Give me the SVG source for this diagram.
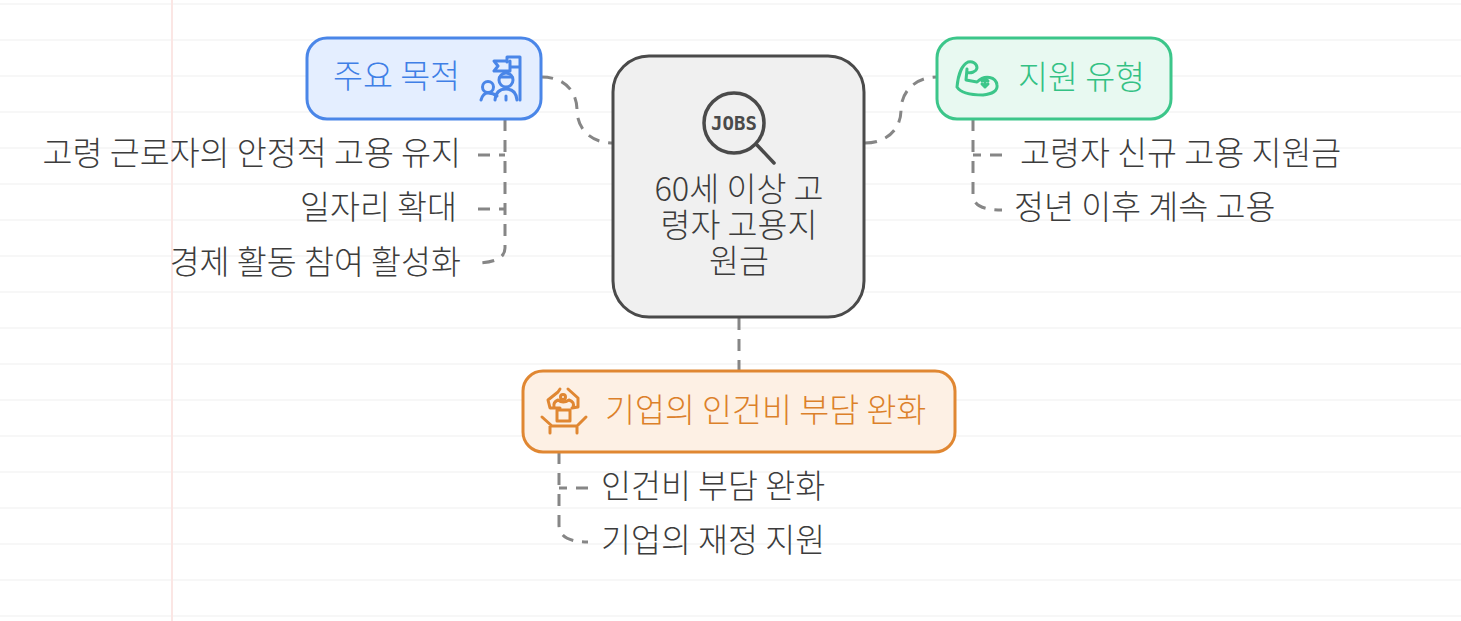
<svg xmlns="http://www.w3.org/2000/svg" width="1461" height="621" viewBox="0 0 1461 621">
<style>
.rule{stroke:#f7f7f7;stroke-width:2;fill:none}
.c{fill:none;stroke:#868686;stroke-width:3;stroke-dasharray:12 9}
.box{stroke-width:3}
text{font-family:"Noto Sans CJK KR","Noto Sans",sans-serif;font-size:32.600px;font-weight:300}
.leaf{fill:#3c3c3c}
.ic{fill:none;stroke-width:3;stroke-linecap:round;stroke-linejoin:round}
</style>
<defs><path id="rules" class="rule" d="M0 4H1461M0 40H1461M0 76H1461M0 112H1461M0 148H1461M0 184H1461M0 220H1461M0 256H1461M0 292H1461M0 328H1461M0 364H1461M0 400H1461M0 436H1461M0 472H1461M0 508H1461M0 544H1461M0 580H1461M0 616H1461"/></defs>
<rect width="1461" height="621" fill="#fff"/>
<use href="#rules"/>
<path d="M172 0V621" stroke="#fbe6e4" stroke-width="2"/>
<g id="connectors">
<path class="c" d="M541 77C568 77 577 95 577 110C577 128 590 143 613 143"/>
<path class="c" d="M865 143C888 143 901 128 901 110C901 92 915 77 937 77"/>
<path class="c" d="M739 318V371"/>
<path class="c" d="M505 119V248Q505 262 478 263"/>
<path class="c" d="M478 155H505"/>
<path class="c" d="M478 209H505"/>
<path class="c" d="M973 119V195Q973 210 1002 210"/>
<path class="c" d="M1002 155H973"/>
<path class="c" d="M559 452V525Q559 542 588 542"/>
<path class="c" d="M588 488H559"/>
</g>
<g id="center">
<rect class="box" x="613" y="56" width="251" height="261" rx="36" fill="#f0f0f0" stroke="#4a4a4a"/>
<circle cx="734" cy="123" r="30" fill="none" stroke="#4a4a4a" stroke-width="3.500"/>
<path d="M757 145L774 163" stroke="#4a4a4a" stroke-width="3.500" stroke-linecap="round"/>
<text x="734" y="130" text-anchor="middle" style="font-family:'DejaVu Sans Mono',monospace;font-size:19px;font-weight:700" fill="#4a4a4a">JOBS</text>
<text class="leaf" text-anchor="middle"><tspan x="739" y="201">60세 이상 고</tspan><tspan x="739" y="237">령자 고용지</tspan><tspan x="739" y="273">원금</tspan></text>
</g>
<g id="goal">
<rect class="box" x="307" y="38" width="234" height="81" rx="20" fill="#e4eeff" stroke="#4a86e8"/>
<text x="333" y="88" fill="#3f7fe6">주요 목적</text>
<g class="ic" stroke="#4a86e8">
<path d="M520 57V100M520 57H507V62M507 61H494L498 66L494 71H510V61M510 67H520"/>
<circle cx="506" cy="80" r="7"/><path d="M500 77H512M495 100Q496 89 506 89Q516 89 517 100M506 96V100"/>
<circle cx="488" cy="87" r="5.500"/><path d="M481 100Q483 93 488 93Q493 93 497 96"/>
</g>
</g>
<g id="type">
<rect class="box" x="937" y="38" width="234" height="81" rx="20" fill="#e8f9f1" stroke="#3cc68a"/>
<text x="1018" y="89" fill="#33c184">지원 유형</text>
<g class="ic" stroke="#3cc68a">
<path d="M967 72C970 74 976 72 977 68C977 63 972 61 968 62C962 65 958 75 957 87C960 92 970 95 983 95C992 94 998 91 997 85C996 77 985 74 977 82L966 80L967 69"/>
<path d="M985 78V87M982 81L985 78L988 81M982 84L985 87L988 84"/>
</g>
</g>
<g id="burden">
<rect class="box" x="523" y="371" width="432" height="81" rx="20" fill="#fdf0e4" stroke="#e08732"/>
<text x="605" y="422" fill="#dc802a">기업의 인건비 부담 완화</text>
<g class="ic" stroke="#e08732">
<path d="M557 410H570V421H557ZM560 408H550L548 400L558 392L560 389M568 389L578 398V407L572 408M554 407Q553 402 558 400Q563 404 569 400Q575 402 573 407"/>
<circle cx="563" cy="397" r="2.500"/>
<path d="M542 417L552 426H577L586 417M550 426V433M577 426V433"/>
</g>
</g>
<g id="leaves">
<text class="leaf" x="461" y="165" text-anchor="end">고령 근로자의 안정적 고용 유지</text>
<text class="leaf" x="457" y="219" text-anchor="end">일자리 확대</text>
<text class="leaf" x="461" y="274" text-anchor="end">경제 활동 참여 활성화</text>
<text class="leaf" x="1020" y="165">고령자 신규 고용 지원금</text>
<text class="leaf" x="1014" y="219">정년 이후 계속 고용</text>
<text class="leaf" x="601" y="498">인건비 부담 완화</text>
<text class="leaf" x="601" y="552">기업의 재정 지원</text>
</g>
</svg>
